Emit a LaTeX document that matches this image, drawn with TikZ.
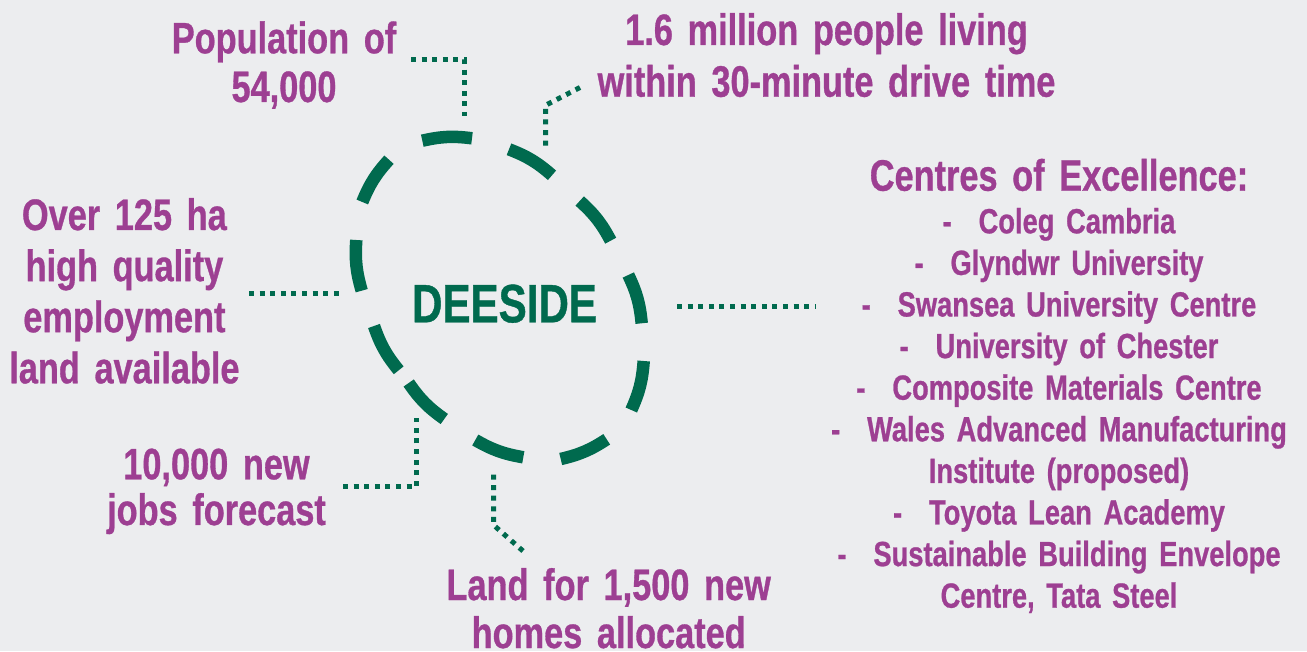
\documentclass[tikz,border=0pt]{standalone}
\usepackage{fontspec}
\setmainfont{Liberation Sans}[FakeStretch=0.78, WordSpace=0.6, BoldFeatures={FakeBold=0.7}]
\definecolor{bgc}{RGB}{236,237,239}
\definecolor{plum}{RGB}{157,63,146}
\definecolor{dgreen}{RGB}{0,106,78}
\newcommand{\coeitem}{\makebox[36pt][l]{-}}
\tikzset{
  lbl/.style={text=plum, align=center, inner sep=0pt, anchor=base, text width=560pt},
  dotline/.style={draw=dgreen, line width=5pt, dash pattern=on 5pt off 5.6pt, line cap=butt},
  arcdash/.style={draw=dgreen, line width=12.5pt, line cap=butt},
}
\begin{document}
\begin{tikzpicture}[x=1pt,y=1pt]
\fill[bgc] (0,0) rectangle (1307,651);
\useasboundingbox (0,0) rectangle (1307,651);

% labels
\node[lbl, font=\bfseries\fontsize{44}{48.7}\selectfont] (pop) at (284,597.7) {Population of\\54,000};
\node[lbl, font=\bfseries\fontsize{44}{51.7}\selectfont] (mil) at (826.5,606) {1.6 million people living\\within 30-minute drive time};
\node[lbl, font=\bfseries\fontsize{44}{51.1}\selectfont] (emp) at (124.4,421) {Over 125 ha\\high quality\\employment\\land available};
\node[lbl, text=dgreen, font=\bfseries\fontsize{54}{60}\selectfont] (deeside) at (504.5,328.7) {DEESIDE};
\node[lbl, font=\bfseries\fontsize{44}{45.7}\selectfont] (jobs) at (216.5,171.7) {10,000 new\\jobs forecast};
\node[lbl, font=\bfseries\fontsize{44}{48}\selectfont] (homes) at (608.7,51) {Land for 1,500 new\\homes allocated};
\node[lbl, font=\bfseries\fontsize{44}{50}\selectfont] (coeh) at (1059,460.3) {Centres of Excellence:};
\node[lbl, font=\bfseries\fontsize{35}{41.6}\selectfont] (coel) at (1059,417.7) {%
\coeitem Coleg Cambria\\
\coeitem Glyndwr University\\
\coeitem Swansea University Centre\\
\coeitem University of Chester\\
\coeitem Composite Materials Centre\\
\coeitem Wales Advanced Manufacturing\\
Institute (proposed)\\
\coeitem Toyota Lean Academy\\
\coeitem Sustainable Building Envelope\\
Centre, Tata Steel};

% dashed ring
\coordinate (c1a) at (422.3,510.3); \coordinate (c1b) at (472,512.7);
\coordinate (c2a) at (509,501.7);   \coordinate (c2b) at (552,475.7);
\coordinate (c3a) at (579.7,450);   \coordinate (c3b) at (610.7,410.3);
\coordinate (c4a) at (628.3,376);   \coordinate (c4b) at (641.7,327.7);
\coordinate (c5a) at (643.7,290);   \coordinate (c5b) at (631.3,241);
\coordinate (c6a) at (606.7,211.7); \coordinate (c6b) at (560.7,192);
\coordinate (c7a) at (523.3,193.7); \coordinate (c7b) at (475.3,211);
\coordinate (c8a) at (444.3,232);   \coordinate (c8b) at (408.7,268);
\coordinate (c9a) at (398.7,280.7); \coordinate (c9b) at (374,325);
\coordinate (c10a) at (361.7,360.3); \coordinate (c10b) at (356.3,411);
\coordinate (c11a) at (362.3,449);  \coordinate (c11b) at (389,491.3);
\foreach \i in {1,...,11} {
  \draw[arcdash] (c\i a) to[bend left=10] (c\i b);
}

% dotted connectors
\coordinate (p1) at (411,591.5); \coordinate (p2) at (464.5,591.5); \coordinate (p3) at (464.5,535);
\draw[dotline] (p1) -- (p2) -- (p3);
\coordinate (m1) at (580,563.5); \coordinate (m2) at (545.5,545.7); \coordinate (m3) at (545.5,501);
\draw[dotline] (m1) -- (m2) -- (m3);
\coordinate (e1) at (249,357.5); \coordinate (e2) at (340,357.5);
\draw[dotline] (e1) -- (e2);
\coordinate (r1) at (677,344.5); \coordinate (r2) at (816,344.5);
\draw[dotline] (r1) -- (r2);
\coordinate (j1) at (343,164); \coordinate (j2) at (416,164); \coordinate (j3) at (416,233);
\draw[dotline] (j1) -- (j2) -- (j3);
\coordinate (h1) at (523,100); \coordinate (h2) at (493.5,126); \coordinate (h3) at (493.5,182);
\draw[dotline] (h1) -- (h2) -- (h3);
\end{tikzpicture}
\end{document}
